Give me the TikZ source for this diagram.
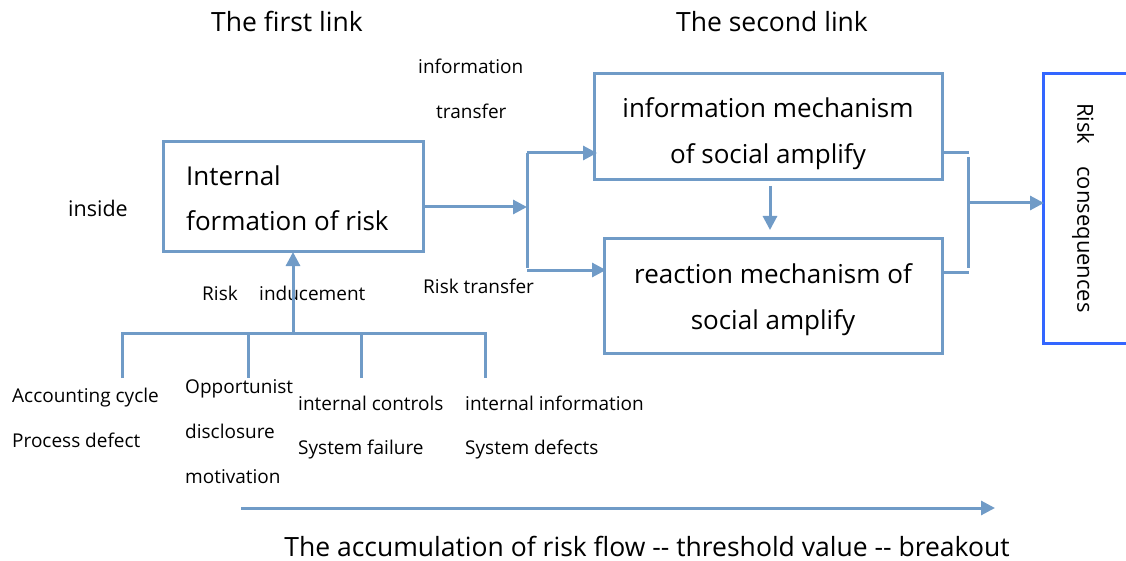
\documentclass[tikz,border=0pt]{standalone}
\usepackage{fontspec}
\setmainfont{Open Sans}
\usetikzlibrary{arrows.meta}
\definecolor{ln}{RGB}{112,155,199}
\definecolor{bb}{RGB}{51,102,255}
\tikzset{
  ln/.style={draw=ln,line width=3pt},
  arr/.style={ln,-{Triangle[length=14pt,width=14pt]}},
  box/.style={draw=ln,line width=3pt,fill=white},
  lbl/.style={anchor=base west,font=\fontsize{19}{22}\selectfont,inner sep=0pt},
  boxtxt/.style={font=\fontsize{26}{30}\selectfont,inner sep=0pt},
  ttl/.style={font=\fontsize{26.5}{30}\selectfont,inner sep=0pt,anchor=base}
}
\begin{document}
\begin{tikzpicture}[x=1pt,y=-1pt]
\useasboundingbox (0,0) rectangle (1126,561);
% titles
\node[ttl] (t1) at (287,32) {The first link};
\node[ttl] (t2) at (772,32) {The second link};
% box 1
\draw[box] (163,142) rectangle (423,252);
\coordinate (b1r) at (423,207);
\coordinate (b1b) at (293,252);
\node[boxtxt,anchor=base west] (b1a) at (186,186) {Internal};
\node[boxtxt,anchor=base west] (b1b2) at (186,231) {formation of risk};
\node[lbl,font=\fontsize{21.5}{24}\selectfont] (inside) at (68,217) {inside};
% box 2
\draw[box] (594,74) rectangle (942,180);
\node[boxtxt,anchor=base] (b2a) at (768,118) {information mechanism};
\node[boxtxt,anchor=base] (b2b) at (768,164) {of social amplify};
% box 3
\draw[box] (604,239) rectangle (942,353);
\node[boxtxt,anchor=base] (b3a) at (773,283) {reaction mechanism of};
\node[boxtxt,anchor=base] (b3b) at (773,329) {social amplify};
% box 4
\draw[draw=bb,line width=3pt] (1043,74) rectangle (1140,343);
\node[font=\fontsize{22}{26}\selectfont,rotate=-90,inner sep=0pt] (b4) at (1083,208) {Risk\quad consequences};
% labels
\node[lbl] (it1) at (418,74) {information};
\node[lbl] (it2) at (436,119) {transfer};
\node[lbl] (rt) at (423,293) {Risk transfer};
\node[lbl] (ri1) at (202,300) {Risk};
\node[lbl] (ri2) at (259,300) {inducement};
% bottom tree
\coordinate (hb) at (293,333);
\draw[ln] (122,378) -- (122,333) -- (485,333) -- (485,378);
\draw[ln] (248,333) -- (248,378);
\draw[ln] (361,333) -- (361,378);
\draw[arr] (hb) -- (b1b);
\node[lbl] (l1a) at (12,402) {Accounting cycle};
\node[lbl] (l1b) at (12,447) {Process defect};
\node[lbl] (l2a) at (185,393) {Opportunist};
\node[lbl] (l2b) at (185,438) {disclosure};
\node[lbl] (l2c) at (185,483) {motivation};
\node[lbl] (l3a) at (298,410) {internal controls};
\node[lbl] (l3b) at (298,454) {System failure};
\node[lbl] (l4a) at (465,410) {internal information};
\node[lbl] (l4b) at (465,454) {System defects};
% transfers
\coordinate (sp) at (527,207);
\draw[arr] (b1r) -- (sp);
\draw[ln] (527,153) -- (527,268);
\draw[arr] (527,153) -- (597,153);
\draw[arr] (527,270) -- (606,270);
\draw[arr] (770,186) -- (770,230);
% to consequences
\draw[ln] (942,153) -- (969,153);
\draw[ln] (968,157) -- (968,268);
\draw[ln] (942,272) -- (969,272);
\draw[arr] (968,203) -- (1044,203);
% bottom arrow
\draw[arr] (241,508) -- (995,508);
\node[ttl] (bt) at (647,556) {The accumulation of risk flow {-}{-} threshold value {-}{-} breakout};
\end{tikzpicture}
\end{document}
